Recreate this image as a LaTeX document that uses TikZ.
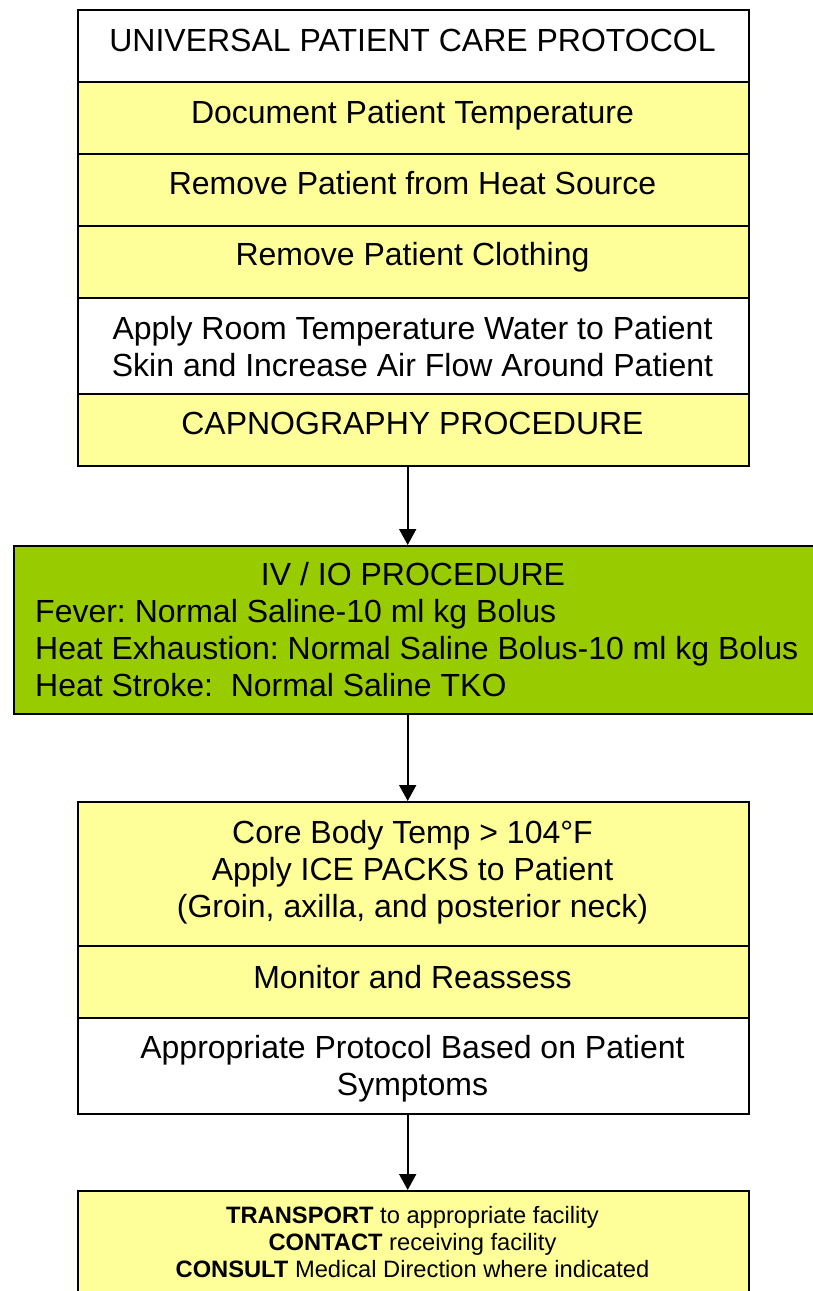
\documentclass[tikz,border=0pt]{standalone}
\usepackage{fontspec}
\setmainfont{Liberation Sans}
\usetikzlibrary{arrows.meta,calc}
\definecolor{pyellow}{HTML}{FFFF99}
\definecolor{pgreen}{HTML}{99CC00}
\frenchspacing
\tikzset{
  rowbox/.style={draw=black, line width=1.8pt, rectangle, inner sep=0pt, anchor=north west},
  ybox/.style={rowbox, fill=pyellow},
  wbox/.style={rowbox, fill=white},
  gbox/.style={rowbox, fill=pgreen},
  bigtxt/.style={anchor=base, inner sep=0pt, align=center, font=\fontsize{32}{37}\selectfont},
  lefttxt/.style={anchor=base west, inner sep=0pt, font=\fontsize{32}{37}\selectfont},
  smalltxt/.style={anchor=base, inner sep=0pt, font=\fontsize{23.7}{27}\selectfont},
  flow/.style={line width=1.8pt, -{Triangle[width=17pt,length=16pt]}},
}
\begin{document}
\begin{tikzpicture}[x=1pt,y=-1pt]
\useasboundingbox[fill=white] (0,0) rectangle (813,1291);
% top stack
\node[wbox, minimum width=671pt, minimum height=72pt] (r1) at (77,9) {};
\node[ybox, minimum width=671pt, minimum height=72pt] (r2) at (77,81) {};
\node[ybox, minimum width=671pt, minimum height=72pt] (r3) at (77,153) {};
\node[ybox, minimum width=671pt, minimum height=72pt] (r4) at (77,225) {};
\node[wbox, minimum width=671pt, minimum height=96pt] (r5) at (77,297) {};
\node[ybox, minimum width=671pt, minimum height=72pt] (r6) at (77,393) {};
\node[bigtxt] (t1) at (412.5,51.5) {UNIVERSAL PATIENT CARE PROTOCOL};
\node[bigtxt] (t2) at (412.5,123.5) {Document Patient Temperature};
\node[bigtxt] (t3) at (412.5,194.5) {Remove Patient from Heat Source};
\node[bigtxt] (t4) at (412.5,265.5) {Remove Patient Clothing};
\node[bigtxt] (t5) at (412.5,339.5) {Apply Room Temperature Water to Patient};
\node[bigtxt] (t5b) at (412.5,376.5) {Skin and Increase Air Flow Around Patient};
\node[bigtxt] (t6) at (412.5,434.5) {CAPNOGRAPHY PROCEDURE};
% green box
\node[gbox, minimum width=812pt, minimum height=168pt] (g) at (13,545) {};
\node[bigtxt] (g0) at (413,585.5) {IV / IO PROCEDURE};
\node[lefttxt] (g1) at (35,622.5) {Fever: Normal Saline-10 ml kg Bolus};
\node[lefttxt] (g2) at (35,659.5) {Heat Exhaustion: Normal Saline Bolus-10 ml kg Bolus};
\node[lefttxt] (g3) at (35,696.5) {Heat Stroke:\ \ Normal Saline TKO};
% middle stack
\node[ybox, minimum width=671pt, minimum height=144pt] (m1) at (77,801) {};
\node[ybox, minimum width=671pt, minimum height=72pt] (m2) at (77,945) {};
\node[wbox, minimum width=671pt, minimum height=96pt] (m3) at (77,1017) {};
\node[bigtxt] (mt1) at (412.5,843.5) {Core Body Temp > 104°F};
\node[bigtxt] (mt2) at (412.5,880.5) {Apply ICE PACKS to Patient};
\node[bigtxt] (mt3) at (412.5,917.5) {(Groin, axilla, and posterior neck)};
\node[bigtxt] (mt4) at (412.5,988.5) {Monitor and Reassess};
\node[bigtxt] (mt5) at (412.5,1058.5) {Appropriate Protocol Based on Patient};
\node[bigtxt] (mt6) at (412.5,1095.5) {Symptoms};
% bottom box
\node[ybox, minimum width=671pt, minimum height=120pt] (b) at (77,1190) {};
\node[smalltxt] (bt1) at (412.5,1223) {\textbf{TRANSPORT} to appropriate facility};
\node[smalltxt] (bt2) at (412.5,1250) {\textbf{CONTACT} receiving facility};
\node[smalltxt] (bt3) at (412.5,1277) {\textbf{CONSULT} Medical Direction where indicated};
% connectors
\coordinate (ax) at (407.7,0);
\draw[flow] (r6.south -| ax) -- (g.north -| ax);
\draw[flow] (g.south -| ax) -- (m1.north -| ax);
\draw[flow] (m3.south -| ax) -- (b.north -| ax);
\end{tikzpicture}
\end{document}
